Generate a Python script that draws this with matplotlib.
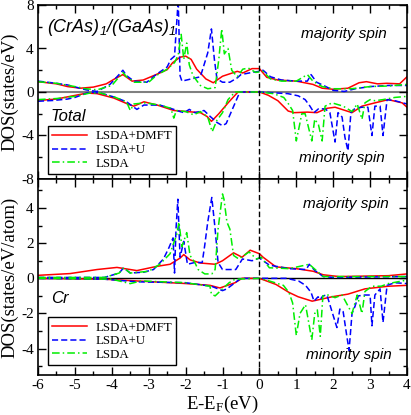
import numpy as np
import matplotlib
matplotlib.use("Agg")
import matplotlib.pyplot as plt
from matplotlib.ticker import MultipleLocator

plt.rcParams['font.family'] = 'Liberation Serif'
plt.rcParams['axes.unicode_minus'] = False

# ---- Total DOS, majority spin (energy in eV, DOS in states/eV)
tot_up_dmft_e = [-6.0,-5.5,-5.2,-4.85,-4.5,-4.15,-3.9,-3.7,-3.45,-3.15,-2.8,-2.5,-2.35,-2.15,-2.0,-1.85,-1.7,-1.45,-1.25,-1.0,-0.6,-0.45,-0.2,0.0,0.2,0.5,1.0,1.45,1.7,2.0,2.4,2.7,2.9,3.2,3.45,3.8,4.0]
tot_up_dmft = [0.95,0.75,0.5,0.35,0.45,0.75,1.25,1.6,1.0,1.1,1.6,2.05,2.7,3.2,3.3,3.0,2.1,1.2,0.85,1.45,1.9,1.75,2.15,2.15,1.35,1.1,1.0,0.7,0.35,0.25,0.35,0.85,0.95,0.75,0.8,0.75,1.4]

tot_up_u_e = [-6.0,-5.5,-5.2,-4.7,-4.4,-4.05,-3.75,-3.7,-3.6,-3.4,-3.05,-2.8,-2.5,-2.4,-2.3,-2.2,-2.15,-2.1,-1.85,-1.6,-1.5,-1.4,-1.3,-1.22,-1.15,-1.0,-0.8,-0.6,-0.5,-0.2,0.0,0.1,0.3,0.6,1.0,1.3,1.4,1.55,1.8,2.0,2.3,2.6,3.0,3.5,4.0]
tot_up_u = [1.0,0.8,0.65,0.2,0.05,0.7,1.8,2.0,1.5,1.0,0.9,1.6,2.3,3.0,3.3,8.5,1.5,1.0,1.2,1.4,2.5,3.6,5.8,3.0,1.2,0.9,0.9,1.3,1.6,1.8,1.9,2.0,1.4,1.1,1.0,1.0,1.6,0.9,0.5,0.15,0.05,0.3,0.5,0.6,0.6]

tot_up_lsda_e = [-6.0,-5.5,-5.0,-4.7,-4.4,-4.0,-3.75,-3.7,-3.6,-3.4,-3.0,-2.8,-2.5,-2.3,-2.2,-2.12,-2.05,-1.97,-1.9,-1.8,-1.6,-1.4,-1.2,-1.1,-1.02,-0.95,-0.85,-0.75,-0.6,-0.45,-0.3,-0.1,0.1,0.3,0.6,1.0,1.3,1.45,1.7,2.0,2.5,3.0,3.5,4.0]
tot_up_lsda = [0.95,0.8,0.5,0.3,0.2,0.6,1.6,1.8,1.4,0.9,0.9,1.5,2.1,2.7,3.4,5.3,3.0,4.5,2.5,1.5,0.6,0.3,0.4,3.0,5.8,3.5,4.0,2.0,1.4,2.1,2.2,1.8,1.9,1.2,1.0,1.0,1.6,1.0,0.5,0.3,0.3,0.5,0.55,0.7]

# ---- Total DOS, minority spin
tot_dn_dmft_e = [-6.0,-5.5,-5.13,-4.67,-4.4,-3.95,-3.5,-3.4,-3.13,-2.77,-2.32,-1.96,-1.6,-1.42,-1.3,-1.1,-0.85,-0.58,0.0,0.24,0.5,0.78,0.94,1.3,1.56,1.83,2.05,2.51,2.78,3.13,3.49,3.87,4.0]
tot_dn_dmft = [-0.78,-0.65,-0.4,-0.1,-0.15,-0.55,-1.2,-1.3,-0.9,-1.2,-1.7,-1.8,-1.9,-2.25,-2.7,-2.0,-1.0,0.0,0.0,-0.3,-0.8,-1.75,-1.9,-1.85,-1.9,-1.5,-1.4,-1.9,-1.3,-1.0,-0.7,-1.0,-1.4]

tot_dn_u_e = [-6.0,-5.6,-5.2,-5.0,-4.6,-4.3,-3.95,-3.6,-3.32,-3.13,-2.7,-2.32,-2.15,-2.04,-1.9,-1.75,-1.5,-1.35,-1.15,-1.0,-0.9,-0.53,0.0,0.77,1.05,1.24,1.37,1.48,1.6,1.78,1.91,2.05,2.13,2.24,2.32,2.4,2.48,2.59,2.78,2.94,3.05,3.13,3.27,3.35,3.46,3.67,4.0]
tot_dn_u = [-0.85,-0.78,-0.65,-0.5,0.0,-0.1,-0.45,-0.9,-1.6,-1.2,-1.2,-1.6,-1.8,-1.9,-1.6,-1.9,-1.7,-2.2,-2.8,-3.1,-2.9,0.0,0.0,-0.15,-0.35,-0.7,-1.3,-1.9,-1.55,-1.55,-1.9,-4.6,-1.9,-2.3,-4.2,-5.4,-1.9,-1.5,-1.4,-1.4,-4.0,-1.3,-1.3,-4.0,-0.7,-0.8,-1.1]

tot_dn_lsda_e = [-6.0,-5.5,-5.0,-4.6,-4.3,-3.9,-3.6,-3.5,-3.4,-3.1,-2.7,-2.4,-2.32,-2.25,-2.0,-1.78,-1.6,-1.4,-1.28,-1.15,-1.0,-0.85,-0.66,0.0,0.38,0.66,0.77,0.9,1.0,1.15,1.24,1.42,1.5,1.6,1.7,1.78,1.97,2.27,2.51,2.65,2.78,2.86,3.0,3.13,3.35,3.67,4.0]
tot_dn_lsda = [-0.7,-0.6,-0.4,-0.1,-0.1,-0.5,-0.9,-1.7,-1.1,-1.0,-1.2,-1.5,-2.4,-1.7,-1.8,-2.1,-1.8,-2.3,-3.65,-2.6,-1.9,-0.7,0.0,0.0,-0.15,-0.5,-1.0,-1.7,-4.5,-2.0,-2.0,-4.5,-2.5,-3.0,-4.5,-1.3,-1.0,-1.3,-1.8,-1.1,-2.5,-1.0,-0.7,-0.8,-0.7,-0.5,-0.4]

# ---- Cr DOS, majority spin (states/eV/atom)
cr_up_dmft_e = [-6.0,-5.13,-4.4,-3.86,-3.32,-2.78,-2.42,-2.15,-2.05,-1.88,-1.6,-1.2,-1.0,-0.7,-0.47,-0.25,0.0,0.1,0.45,1.0,1.46,1.73,2.16,3.5,4.0]
cr_up_dmft = [0.17,0.27,0.5,0.62,0.44,0.68,0.8,1.15,1.35,1.05,0.87,0.8,1.0,1.45,1.2,1.6,1.4,1.2,0.65,0.55,0.4,0.2,0.1,0.15,0.25]

cr_up_u_e = [-6.0,-4.2,-3.8,-3.68,-3.5,-3.13,-2.87,-2.6,-2.45,-2.34,-2.3,-2.26,-2.21,-2.15,-2.05,-1.95,-1.75,-1.55,-1.48,-1.4,-1.29,-1.2,-1.12,-1.0,-0.64,-0.46,-0.2,0.0,0.27,0.81,1.27,1.35,1.5,1.73,2.0,4.0]
cr_up_u = [0.05,0.05,0.3,0.6,0.3,0.35,0.5,1.1,1.75,2.3,0.3,2.8,4.5,1.2,2.1,0.8,0.9,0.9,1.9,3.2,4.6,2.8,0.9,0.5,0.5,1.1,1.0,1.15,0.75,0.55,0.5,0.8,0.45,0.1,0.05,0.1]

cr_up_lsda_e = [-6.0,-4.2,-3.8,-3.68,-3.5,-3.0,-2.7,-2.42,-2.34,-2.24,-2.18,-2.1,-1.97,-1.88,-1.75,-1.66,-1.48,-1.29,-1.2,-1.12,-1.0,-0.96,-0.88,-0.8,-0.7,-0.56,-0.28,-0.08,0.05,0.27,0.81,1.35,1.73,2.0,4.0]
cr_up_lsda = [0.05,0.05,0.3,0.6,0.3,0.4,0.8,1.4,1.9,2.5,3.2,1.8,2.6,1.3,0.9,0.5,0.25,0.25,0.5,2.8,4.8,4.5,3.2,2.8,1.3,1.1,1.5,1.1,1.2,0.6,0.55,0.8,0.1,0.1,0.1]

# ---- Cr DOS, minority spin
cr_dn_dmft_e = [-6.0,-4.2,-3.32,-1.97,-1.34,-1.07,-0.66,-0.47,0.0,0.45,0.8,1.05,1.43,1.97,2.4,2.86,3.49,4.0]
cr_dn_dmft = [0.0,-0.05,-0.15,-0.3,-0.4,-0.55,-0.25,0.0,0.0,-0.35,-0.8,-1.05,-1.3,-1.05,-0.9,-0.6,-0.45,-0.4]

cr_dn_u_e = [-6.0,-4.2,-3.3,-2.0,-1.3,-1.0,-0.88,-0.66,-0.5,0.0,0.73,1.06,1.25,1.4,1.48,1.59,1.65,1.72,1.83,2.1,2.18,2.27,2.37,2.43,2.51,2.59,2.68,2.86,3.0,3.05,3.13,3.27,3.35,3.46,3.67,4.0]
cr_dn_u = [0.0,-0.05,-0.2,-0.25,-0.45,-0.7,-0.6,-0.25,0.0,0.0,0.0,-0.15,-0.4,-0.8,-1.3,-1.05,-1.2,-1.0,-0.95,-2.8,-1.75,-1.9,-3.3,-4.1,-2.0,-1.6,-1.0,-0.95,-0.95,-2.7,-0.95,-0.6,-2.5,-0.4,-0.25,-0.3]

cr_dn_lsda_e = [-6.0,-4.0,-3.5,-3.2,-2.0,-1.34,-1.3,-1.2,-1.0,-0.82,-0.66,0.0,0.27,0.65,0.8,0.9,1.0,1.1,1.25,1.42,1.5,1.57,1.65,1.72,1.86,2.05,2.24,2.51,2.65,2.78,2.86,3.05,3.3,3.49,4.0]
cr_dn_lsda = [0.0,-0.05,-0.3,-0.15,-0.25,-0.45,-0.9,-1.0,-0.6,-0.25,-0.05,0.0,-0.15,-0.4,-0.8,-1.4,-3.25,-2.0,-1.5,-3.5,-2.0,-1.8,-3.3,-1.0,-0.95,-1.1,-0.95,-2.0,-0.95,-2.0,-0.75,-0.45,-0.45,-0.3,-0.1]

labels = ["LSDA+DMFT", "LSDA+U", "LSDA"]
colors = ["#ff0000", "#0000ff", "#00ee00"]
styles = [dict(ls='-'), dict(ls=(0, (4, 2))), dict(ls=(0, (5, 2, 1, 2)))]

W, H = 411, 415
fig = plt.figure(figsize=(W/100, H/100), dpi=100)
x0, x1 = 38, 407
ax1 = fig.add_axes([x0/W, 1-179/H, (x1-x0)/W, 174/H])
ax2 = fig.add_axes([x0/W, 1-375/H, (x1-x0)/W, 196/H])

italic = dict(family='Liberation Sans', style='italic')

def style_axes(ax):
    ax.set_xlim(-6, 4)
    ax.xaxis.set_major_locator(MultipleLocator(1))
    ax.xaxis.set_minor_locator(MultipleLocator(0.5))
    ax.tick_params(which='both', direction='in', top=True, right=True, labelsize=11, pad=3)
    ax.tick_params(which='major', length=6, width=1)
    ax.tick_params(which='minor', length=3, width=1)
    for s in ax.spines.values():
        s.set_linewidth(1.2)

def add_legend(ax, y):
    leg = ax.legend(loc='upper left', bbox_to_anchor=(0.027, y), borderaxespad=0, fontsize=9.3,
                    handlelength=2.7, handletextpad=0.6, labelspacing=0.12, borderpad=0.35,
                    fancybox=False, edgecolor='black', framealpha=1)
    leg.get_frame().set_linewidth(1)

# top panel: total DOS
ups = [(tot_up_dmft_e, tot_up_dmft), (tot_up_u_e, tot_up_u), (tot_up_lsda_e, tot_up_lsda)]
dns = [(tot_dn_dmft_e, tot_dn_dmft), (tot_dn_u_e, tot_dn_u), (tot_dn_lsda_e, tot_dn_lsda)]
ax1.axhline(0, color='#808080', lw=1.5, zorder=1)
for i in range(3):
    ax1.plot(ups[i][0], ups[i][1], color=colors[i], lw=1.1, label=labels[i], **styles[i])
    ax1.plot(dns[i][0], dns[i][1], color=colors[i], lw=1.1, **styles[i])
ax1.axvline(0, color='black', ls=(0, (4, 2)), lw=1)
style_axes(ax1)
ax1.set_ylim(-8, 8)
ax1.yaxis.set_major_locator(MultipleLocator(4))
ax1.yaxis.set_minor_locator(MultipleLocator(2))
ax1.tick_params(labelbottom=False)
ax1.set_ylabel("DOS(states/eV)", fontsize=13.5, labelpad=2)
ax1.text(0.024, 0.87, r'$\mathregular{(CrAs)_1/(GaAs)_1}$', transform=ax1.transAxes,
         fontsize=13, va='center', **italic)
ax1.text(0.035, 0.36, "Total", transform=ax1.transAxes, fontsize=12, va='center', **italic)
ax1.text(0.945, 0.835, "majority spin", transform=ax1.transAxes, fontsize=11, ha='right', va='center', **italic)
ax1.text(0.94, 0.12, "minority spin", transform=ax1.transAxes, fontsize=11, ha='right', va='center', **italic)
add_legend(ax1, 0.305)

# bottom panel: Cr DOS
ups = [(cr_up_dmft_e, cr_up_dmft), (cr_up_u_e, cr_up_u), (cr_up_lsda_e, cr_up_lsda)]
dns = [(cr_dn_dmft_e, cr_dn_dmft), (cr_dn_u_e, cr_dn_u), (cr_dn_lsda_e, cr_dn_lsda)]
ax2.axhline(0, color='black', lw=1, zorder=1)
for i in range(3):
    ax2.plot(ups[i][0], ups[i][1], color=colors[i], lw=1.1, label=labels[i], **styles[i])
    ax2.plot(dns[i][0], dns[i][1], color=colors[i], lw=1.1, **styles[i])
ax2.axvline(0, color='black', ls=(0, (4, 2)), lw=1)
style_axes(ax2)
ax2.set_ylim(-5.5, 5.65)
ax2.yaxis.set_major_locator(MultipleLocator(2))
ax2.yaxis.set_minor_locator(MultipleLocator(1))
ax2.set_ylabel("DOS(states/eV/atom)", fontsize=13.5, labelpad=2)
ax2.set_xlabel(r'E-E$\mathregular{_F}$(eV)', fontsize=13.5, labelpad=1)
ax2.text(0.035, 0.39, "Cr", transform=ax2.transAxes, fontsize=12, va='center', **italic)
ax2.text(0.95, 0.87, "majority spin", transform=ax2.transAxes, fontsize=11, ha='right', va='center', **italic)
ax2.text(0.96, 0.10, "minority spin", transform=ax2.transAxes, fontsize=11, ha='right', va='center', **italic)
add_legend(ax2, 0.296)

fig.savefig("out.png", dpi=100)
